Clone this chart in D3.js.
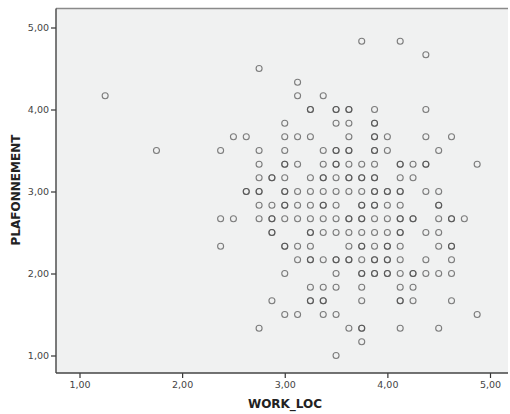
<!DOCTYPE html>
<html>
<head>
<meta charset="utf-8">
<script src="https://cdn.jsdelivr.net/npm/d3@7"></script>
<style>
  body { margin: 0; background: #fff; }
  svg { display: block; }
  text { font-family: "DejaVu Sans", "Liberation Sans", sans-serif; }
</style>
</head>
<body>
<script>
// Axis ticks
const xTicks = [1, 2, 3, 4, 5];
const yTicks = [1, 2, 3, 4, 5];
const xTitle = "WORK_LOC";
const yTitle = "PLAFONNEMENT";

// Points [WORK_LOC, PLAFONNEMENT]; repeated pairs = overlapping cases (darker circles)
const points = [
  [3.75, 4.833], [4.125, 4.833],
  [4.375, 4.667],
  [2.75, 4.5],
  [3.125, 4.333],
  [1.25, 4.167], [3.125, 4.167], [3.375, 4.167],
  [3.25, 4], [3.25, 4], [3.5, 4], [3.5, 4], [3.625, 4], [3.625, 4], [3.875, 4], [4.375, 4],
  [3, 3.833], [3.5, 3.833], [3.625, 3.833], [3.875, 3.833], [3.875, 3.833],
  [2.5, 3.667], [2.625, 3.667], [3, 3.667], [3.125, 3.667], [3.25, 3.667], [3.625, 3.667],
  [3.875, 3.667], [3.875, 3.667], [4, 3.667], [4.375, 3.667], [4.625, 3.667],
  [1.75, 3.5], [2.375, 3.5], [2.75, 3.5], [3, 3.5], [3.375, 3.5], [3.5, 3.5], [3.5, 3.5],
  [3.625, 3.5], [3.625, 3.5], [3.875, 3.5], [3.875, 3.5], [4, 3.5], [4.5, 3.5],
  [2.75, 3.333], [3, 3.333], [3, 3.333], [3.125, 3.333], [3.375, 3.333], [3.5, 3.333], [3.5, 3.333],
  [3.625, 3.333], [3.75, 3.333], [3.875, 3.333], [4.125, 3.333], [4.125, 3.333], [4.25, 3.333],
  [4.375, 3.333], [4.375, 3.333], [4.875, 3.333],
  [2.75, 3.167], [2.875, 3.167], [2.875, 3.167], [3, 3.167], [3.25, 3.167], [3.375, 3.167], [3.375, 3.167],
  [3.5, 3.167], [3.625, 3.167], [3.625, 3.167], [3.75, 3.167], [3.75, 3.167], [3.875, 3.167], [3.875, 3.167],
  [4.125, 3.167], [4.25, 3.167],
  [2.625, 3], [2.625, 3], [2.75, 3], [2.75, 3], [3, 3], [3, 3], [3.125, 3], [3.25, 3], [3.375, 3],
  [3.5, 3], [3.625, 3], [3.75, 3], [3.875, 3], [3.875, 3], [4, 3], [4, 3], [4.125, 3], [4.125, 3],
  [4.375, 3], [4.5, 3],
  [2.75, 2.833], [2.875, 2.833], [3, 2.833], [3, 2.833], [3.125, 2.833], [3.25, 2.833], [3.375, 2.833], [3.375, 2.833],
  [3.5, 2.833], [3.75, 2.833], [3.75, 2.833], [3.875, 2.833], [3.875, 2.833], [4, 2.833], [4.125, 2.833],
  [4.5, 2.833], [4.5, 2.833],
  [2.375, 2.667], [2.5, 2.667], [2.75, 2.667], [2.875, 2.667], [2.875, 2.667], [3, 2.667], [3.125, 2.667],
  [3.25, 2.667], [3.375, 2.667], [3.5, 2.667], [3.625, 2.667], [3.625, 2.667], [3.75, 2.667], [3.75, 2.667],
  [3.875, 2.667], [4, 2.667], [4.125, 2.667], [4.125, 2.667], [4.25, 2.667], [4.25, 2.667], [4.5, 2.667],
  [4.625, 2.667], [4.625, 2.667], [4.75, 2.667],
  [2.875, 2.5], [2.875, 2.5], [3.25, 2.5], [3.25, 2.5], [3.375, 2.5], [3.5, 2.5], [3.625, 2.5], [3.75, 2.5],
  [3.875, 2.5], [4, 2.5], [4.125, 2.5], [4.125, 2.5], [4.375, 2.5], [4.5, 2.5],
  [2.375, 2.333], [3, 2.333], [3, 2.333], [3.125, 2.333], [3.25, 2.333], [3.625, 2.333], [3.75, 2.333], [3.75, 2.333],
  [3.875, 2.333], [4, 2.333], [4, 2.333], [4.125, 2.333], [4.5, 2.333], [4.625, 2.333], [4.625, 2.333],
  [3.125, 2.167], [3.25, 2.167], [3.25, 2.167], [3.375, 2.167], [3.5, 2.167], [3.5, 2.167], [3.625, 2.167], [3.625, 2.167],
  [3.75, 2.167], [3.875, 2.167], [3.875, 2.167], [4, 2.167], [4, 2.167], [4.125, 2.167], [4.375, 2.167], [4.625, 2.167],
  [3, 2], [3.5, 2], [3.75, 2], [3.75, 2], [3.875, 2], [3.875, 2], [4, 2], [4, 2], [4.125, 2],
  [4.25, 2], [4.25, 2], [4.375, 2], [4.5, 2], [4.625, 2],
  [3.25, 1.833], [3.375, 1.833], [3.5, 1.833], [3.75, 1.833], [4.125, 1.833], [4.25, 1.833],
  [2.875, 1.667], [3.25, 1.667], [3.25, 1.667], [3.375, 1.667], [3.375, 1.667], [3.75, 1.667],
  [4.125, 1.667], [4.125, 1.667], [4.25, 1.667], [4.625, 1.667],
  [3, 1.5], [3.125, 1.5], [3.375, 1.5], [3.5, 1.5], [4.875, 1.5],
  [2.75, 1.333], [3.625, 1.333], [3.75, 1.333], [3.75, 1.333], [4.125, 1.333], [4.5, 1.333],
  [3.75, 1.167],
  [3.5, 1]
];

const W = 510, H = 414;
const plot = { left: 56, right: 508, top: 8.5, bottom: 373 };

const x = d3.scaleLinear().domain([1, 5]).range([79.5, 490]);
const y = d3.scaleLinear().domain([1, 5]).range([355.5, 27.5]);

const fmt = v => d3.format(".2f")(v).replace(".", ",");

const svg = d3.select("body").append("svg").attr("width", W).attr("height", H);

svg.append("rect")
  .attr("x", plot.left).attr("y", plot.top)
  .attr("width", plot.right - plot.left).attr("height", plot.bottom - plot.top)
  .attr("fill", "#f0f1f1");

// top border
svg.append("line")
  .attr("x1", plot.left).attr("x2", plot.right)
  .attr("y1", plot.top).attr("y2", plot.top)
  .attr("stroke", "#8a8a8a").attr("stroke-width", 1.4);

// points
svg.append("g").selectAll("circle").data(points).join("circle")
  .attr("cx", d => x(d[0]))
  .attr("cy", d => y(d[1]))
  .attr("r", 3)
  .attr("fill", "none")
  .attr("stroke", "#4a4a4a")
  .attr("stroke-opacity", 0.7)
  .attr("stroke-width", 1.1);

// axes
const xAxis = d3.axisBottom(x).tickValues(xTicks).tickFormat(fmt).tickSizeOuter(0).tickSize(5).tickPadding(3);
const yAxis = d3.axisLeft(y).tickValues(yTicks).tickFormat(fmt).tickSizeOuter(0).tickSize(5).tickPadding(2);

const gx = svg.append("g").attr("transform", `translate(0,${plot.bottom})`).call(xAxis);
const gy = svg.append("g").attr("transform", `translate(${plot.left},0)`).call(yAxis);

[gx, gy].forEach(g => {
  g.select(".domain").remove();
  g.selectAll(".tick line").attr("stroke", "#333").attr("stroke-width", 1.2);
  g.selectAll(".tick text").attr("fill", "#444").attr("font-size", 9.5)
    .attr("font-family", "DejaVu Sans, sans-serif");
});

// axis lines
svg.append("line").attr("x1", plot.left).attr("x2", plot.right)
  .attr("y1", plot.bottom).attr("y2", plot.bottom)
  .attr("stroke", "#444").attr("stroke-width", 1.4);
svg.append("line").attr("x1", plot.left).attr("x2", plot.left)
  .attr("y1", plot.top).attr("y2", plot.bottom)
  .attr("stroke", "#444").attr("stroke-width", 1.4);

// titles
svg.append("text")
  .attr("x", 285).attr("y", 408)
  .attr("text-anchor", "middle")
  .attr("font-size", 12).attr("font-weight", "bold").attr("fill", "#222")
  .text(xTitle);

svg.append("text")
  .attr("transform", "translate(20,190) rotate(-90)")
  .attr("text-anchor", "middle")
  .attr("font-size", 12).attr("font-weight", "bold").attr("fill", "#222")
  .text(yTitle);
</script>
</body>
</html>
